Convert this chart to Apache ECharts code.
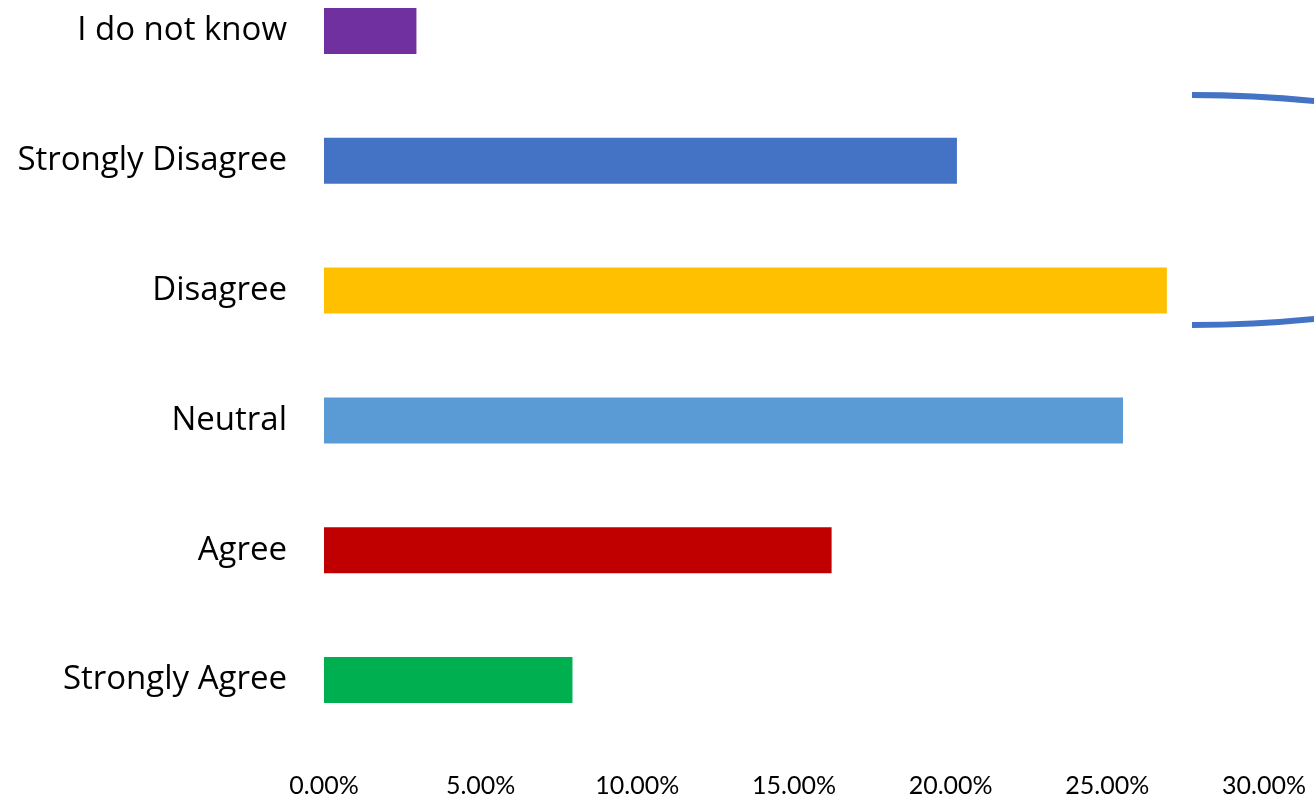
<!DOCTYPE html>
<html>
<head>
<meta charset="utf-8">
<style>
  html, body { margin: 0; padding: 0; background: #ffffff; }
  #chart { width: 1314px; height: 798px; }
</style>
<script src="https://cdn.jsdelivr.net/npm/echarts@6/dist/echarts.min.js"></script>
</head>
<body>
<div id="chart"></div>
<script>
// Response categories, bottom to top
const categories = ['Strongly Agree', 'Agree', 'Neutral', 'Disagree', 'Strongly Disagree', 'I do not know'];
// Share of responses (%)
const shares = [7.93, 16.2, 25.5, 26.9, 20.2, 2.95];
// Bar colour per category
const barColors = ['#00B050', '#C00000', '#5B9BD5', '#FFC000', '#4472C4', '#7030A0'];
// Value axis ticks (%)
const axisMin = 0, axisMax = 30, axisStep = 5;

const chart = echarts.init(document.getElementById('chart'), null, { renderer: 'canvas' });

chart.setOption({
  animation: false,
  backgroundColor: '#ffffff',
  grid: { left: 324, right: 50, top: 31, bottom: 118, containLabel: false },
  xAxis: {
    type: 'value',
    min: axisMin,
    max: axisMax,
    interval: axisStep,
    axisLine: { show: false },
    axisTick: { show: false },
    splitLine: { show: false },
    axisLabel: {
      margin: 93,
      color: '#000000',
      fontFamily: 'Lato',
      fontSize: 25,
      formatter: v => v.toFixed(2) + '%'
    }
  },
  yAxis: {
    type: 'category',
    data: categories,
    boundaryGap: false,
    axisLine: { show: false },
    axisTick: { show: false },
    splitLine: { show: false },
    axisLabel: {
      margin: 37,
      color: '#000000',
      fontFamily: 'Open Sans',
      fontSize: 33,
      padding: [5, 0, 0, 0]
    }
  },
  series: [{
    type: 'bar',
    barWidth: 46,
    clip: false,
    data: shares.map((v, i) => ({ value: v, itemStyle: { color: barColors[i] } }))
  }],
  graphic: [
    {
      // upper arm of the bracket grouping the two disagree bars
      type: 'bezierCurve',
      shape: { x1: 1192, y1: 95, cpx1: 1256, cpy1: 95, x2: 1320, y2: 101.6 },
      style: { fill: null, stroke: '#4472C4', lineWidth: 6 }
    },
    {
      type: 'bezierCurve',
      shape: { x1: 1192, y1: 325, cpx1: 1256, cpy1: 325, x2: 1320, y2: 318.4 },
      style: { fill: null, stroke: '#4472C4', lineWidth: 6 }
    }
  ]
});
</script>
</body>
</html>
